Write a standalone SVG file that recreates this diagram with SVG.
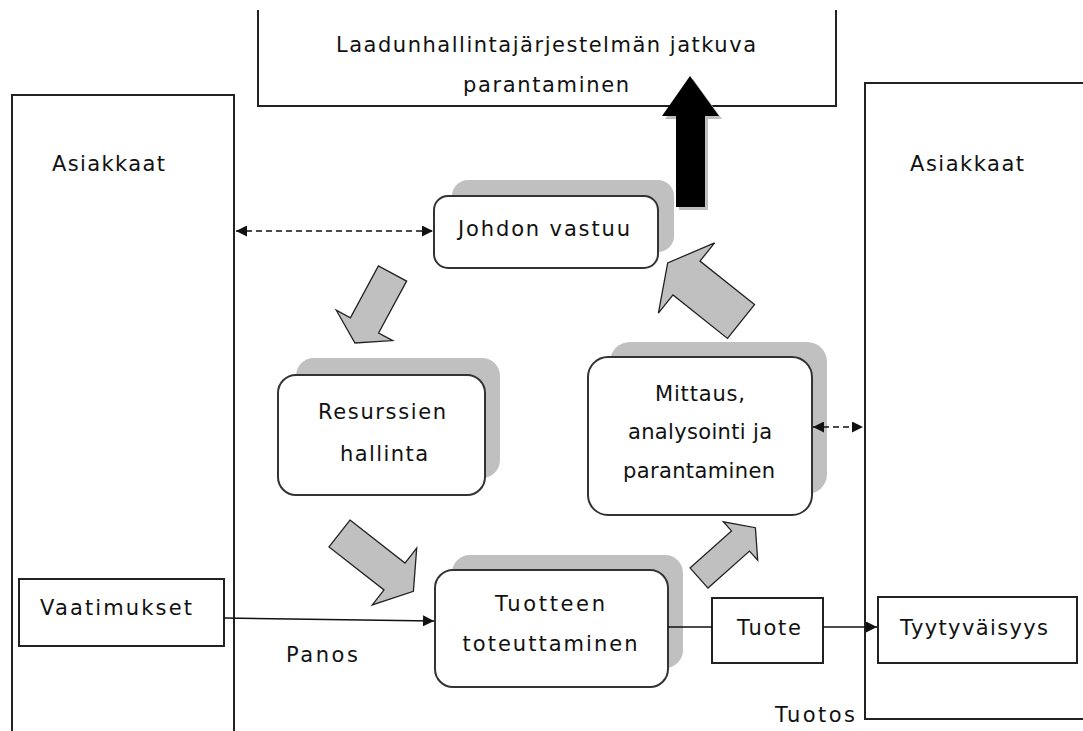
<svg xmlns="http://www.w3.org/2000/svg" width="1083" height="731" viewBox="0 0 1083 731">
<defs>
<style>
text{font-family:"DejaVu Sans","Verdana",sans-serif;font-size:21px;fill:#111;}
.c{text-anchor:middle;}
.frame{fill:none;stroke:#222;stroke-width:2;}
.box{fill:#fff;stroke:#222;stroke-width:2;}
.node{fill:#fff;stroke:#333;stroke-width:2;}
.shadow{fill:#c0c0c0;stroke:none;}
.garrow{fill:#c0c0c0;stroke:#222;stroke-width:1.3;stroke-linejoin:miter;}
.line{fill:none;stroke:#111;stroke-width:1.6;}
.dash{fill:none;stroke:#111;stroke-width:1.6;stroke-dasharray:6 4;}
</style>
<marker id="ah" viewBox="0 0 10 10" refX="10" refY="5" markerWidth="11" markerHeight="11" markerUnits="userSpaceOnUse" orient="auto-start-reverse">
<path d="M0,0 L10,5 L0,10 z" fill="#111"/>
</marker>
</defs>

<g id="top-box">
<path class="frame" d="M258,10 V106 H836 V10"/>
<text class="c" x="546" y="52" textLength="420" lengthAdjust="spacing">Laadunhallintajärjestelmän jatkuva</text>
<text class="c" x="546" y="92" textLength="166" lengthAdjust="spacing">parantaminen</text>
</g>

<g id="asiakkaat-left">
<path class="frame" d="M12,735 V95 H234 V735"/>
<text x="52" y="171" textLength="113" lengthAdjust="spacing">Asiakkaat</text>
</g>

<g id="asiakkaat-right">
<path class="frame" d="M1090,83 H865 V719 H1090"/>
<text x="910" y="171" textLength="114" lengthAdjust="spacing">Asiakkaat</text>
</g>

<g id="vaatimukset">
<rect class="box" x="19" y="579" width="205" height="67"/>
<text x="40" y="615" textLength="152" lengthAdjust="spacing">Vaatimukset</text>
</g>

<g id="johdon-vastuu">
<rect class="shadow" x="452" y="180" width="222" height="72" rx="16"/>
<rect class="node" x="434" y="196" width="224" height="72" rx="14"/>
<text class="c" x="544" y="236" textLength="172" lengthAdjust="spacing">Johdon vastuu</text>
</g>

<g id="resurssien-hallinta">
<rect class="shadow" x="296" y="358" width="204" height="120" rx="18"/>
<rect class="node" x="278" y="375" width="207" height="120" rx="18"/>
<text class="c" x="382" y="419" textLength="128" lengthAdjust="spacing">Resurssien</text>
<text class="c" x="384" y="461" textLength="88" lengthAdjust="spacing">hallinta</text>
</g>

<g id="mittaus">
<rect class="shadow" x="610" y="342" width="217" height="152" rx="20"/>
<rect class="node" x="588" y="357" width="224" height="158" rx="20"/>
<text class="c" x="700" y="401" textLength="90" lengthAdjust="spacing">Mittaus,</text>
<text class="c" x="700" y="439" textLength="144" lengthAdjust="spacing">analysointi ja</text>
<text class="c" x="699" y="478" textLength="152" lengthAdjust="spacing">parantaminen</text>
</g>

<g id="tuotteen-toteuttaminen">
<rect class="shadow" x="452" y="555" width="231" height="113" rx="18"/>
<rect class="node" x="435" y="570" width="233" height="117" rx="18"/>
<text class="c" x="550" y="611" textLength="110" lengthAdjust="spacing">Tuotteen</text>
<text class="c" x="550" y="651" textLength="175" lengthAdjust="spacing">toteuttaminen</text>
</g>

<g id="tuote">
<rect class="box" x="712" y="598" width="111" height="65"/>
<text class="c" x="769" y="635" textLength="64" lengthAdjust="spacing">Tuote</text>
</g>

<g id="tyytyvaisyys">
<rect class="box" x="878" y="597" width="199" height="66"/>
<text x="900" y="635" textLength="148" lengthAdjust="spacing">Tyytyväisyys</text>
</g>

<g id="labels">
<text x="286" y="662" textLength="72" lengthAdjust="spacing">Panos</text>
<text x="775" y="722" textLength="80" lengthAdjust="spacing">Tuotos</text>
</g>

<g id="connectors">
<line class="dash" x1="236" y1="231" x2="433" y2="231" marker-start="url(#ah)" marker-end="url(#ah)"/>
<line class="dash" x1="813" y1="427" x2="863" y2="427" marker-start="url(#ah)" marker-end="url(#ah)"/>
<line class="line" x1="224" y1="618" x2="434" y2="621" marker-end="url(#ah)"/>
<line class="line" x1="668" y1="627" x2="712" y2="627"/>
<line class="line" x1="823" y1="627" x2="877" y2="627" marker-end="url(#ah)"/>
<polygon class="garrow" points="406.6,281.1 378.6,333.0 392.7,340.6 355,343 336.3,310.2 350.4,317.8 378.4,265.9"/>
<polygon class="garrow" points="350,520.1 405,563.1 416.7,548.1 413.4,591.3 372.3,604.9 384,589.9 329,546.9"/>
<polygon class="garrow" points="754.5,304.6 700,261.1 714.6,242.8 667.7,263 658.4,313.2 673,294.9 727.5,338.4"/>
<polygon class="garrow" points="690,567.9 731.5,530.9 723.3,521.8 755.4,527.7 757.7,560.2 749.5,551.1 708,588.1"/>
<polygon points="679,119 665,119 693,79 722,119 708,119 708,210 679,210" fill="#bdbdbd"/>
<polygon points="676,116 662,116 690,76 719,116 705,116 705,207 676,207" fill="#000"/>
</g>
</svg>
